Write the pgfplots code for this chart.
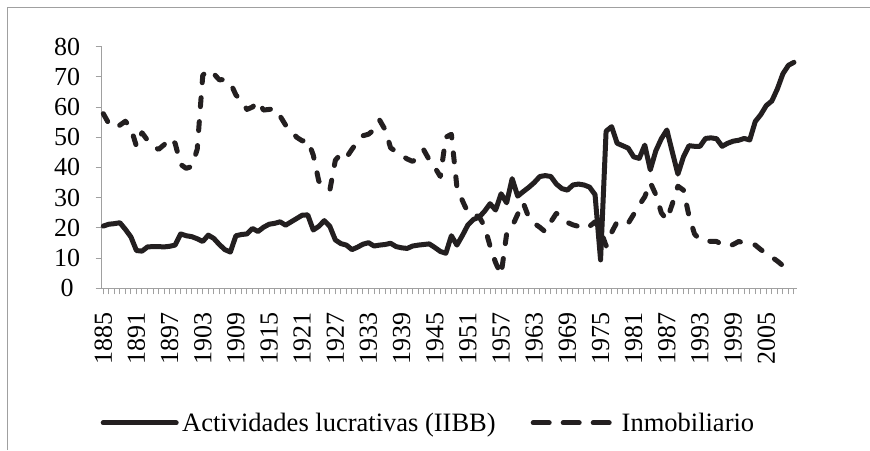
\documentclass[border=0pt]{standalone}
\usepackage{fontspec}
\setmainfont{Liberation Serif}
\usepackage{pgfplots}
\usepackage{pgfplotstable}
\pgfplotsset{compat=1.18}
\definecolor{axgray}{RGB}{160,160,160}
\definecolor{ink}{RGB}{35,31,32}

\pgfplotstableread{
year iibb inmob
1885 20.6 57.8
1886 21.2 54.5
1887 21.4 53.2
1888 21.7 54.0
1889 19.5 55.3
1890 17.0 53.0
1891 12.5 47.0
1892 12.3 51.5
1893 13.7 49.0
1894 13.8 47.0
1895 13.8 46.0
1896 13.7 47.5
1897 13.9 49.7
1898 14.3 48.0
1899 18.0 41.0
1900 17.4 39.7
1901 17.1 40.3
1902 16.4 46.0
1903 15.5 70.5
1904 17.6 72.3
1905 16.5 71.0
1906 14.5 69.0
1907 12.8 69.1
1908 12.0 68.0
1909 17.4 64.0
1910 17.8 62.0
1911 18.0 59.2
1912 19.8 60.0
1913 18.8 61.9
1914 20.2 59.0
1915 21.2 59.2
1916 21.5 59.5
1917 22.0 57.0
1918 20.9 54.0
1919 22.0 52.0
1920 23.1 50.0
1921 24.2 48.8
1922 24.3 49.1
1923 19.3 44.1
1924 20.5 35.5
1925 22.4 33.5
1926 20.5 32.5
1927 16.0 42.4
1928 14.8 44.5
1929 14.3 43.3
1930 12.8 46.0
1931 13.6 48.5
1932 14.6 50.5
1933 15.1 51.0
1934 14.0 52.5
1935 14.3 55.7
1936 14.5 52.5
1937 14.9 46.5
1938 13.8 45.2
1939 13.4 44.0
1940 13.2 42.8
1941 14.0 42.0
1942 14.3 43.5
1943 14.5 45.8
1944 14.7 42.5
1945 13.5 40.0
1946 12.2 37.0
1947 11.6 50.0
1948 17.4 51.0
1949 14.3 33.5
1950 17.5 29.0
1951 21.0 25.0
1952 22.8 24.2
1953 23.5 23.8
1954 25.5 20.5
1955 28.0 14.0
1956 25.9 8.5
1957 31.3 4.5
1958 28.3 18.0
1959 36.3 20.5
1960 30.5 24.5
1961 32.0 28.3
1962 33.4 23.5
1963 35.0 21.5
1964 37.0 20.2
1965 37.3 18.7
1966 37.0 22.0
1967 34.5 24.8
1968 33.0 23.5
1969 32.5 21.8
1970 34.2 21.0
1971 34.5 20.5
1972 34.2 19.6
1973 33.5 20.5
1974 31.0 22.0
1975 9.4 19.3
1976 52.0 14.0
1977 53.5 18.5
1978 48.0 22.0
1979 47.2 21.8
1980 46.4 21.5
1981 43.5 24.5
1982 43.0 27.5
1983 47.4 30.3
1984 39.2 35.0
1985 45.5 31.0
1986 49.5 25.0
1987 52.4 22.6
1988 45.0 28.0
1989 37.8 33.8
1990 43.5 32.5
1991 47.2 24.0
1992 47.0 18.0
1993 47.0 16.0
1994 49.6 15.8
1995 49.8 15.5
1996 49.5 15.5
1997 47.0 14.5
1998 48.0 13.8
1999 48.7 14.5
2000 49.0 15.5
2001 49.6 15.0
2002 49.1 14.9
2003 55.2 14.3
2004 57.5 12.8
2005 60.5 11.5
2006 62.0 10.3
2007 66.0 9.0
2008 71.0 7.5
2009 73.8 6.5
2010 74.8 6.0
}\datatable

\begin{document}
\begin{tikzpicture}[x=1pt,y=1pt]
\path[use as bounding box] (0,0) rectangle (870,450);
\draw[axgray, line width=1pt] (7,0) -- (7,442) -- (870,442);
\begin{axis}[
  at={(101.7pt,161.7pt)}, anchor=south west,
  scale only axis, width=695pt, height=241.7pt,
  xmin=1884.71, xmax=2010.5,
  ymin=0, ymax=80,
  axis x line=bottom, axis y line=left,
  axis line style={axgray, line width=1.3pt, -},
  tick style={axgray, line width=1pt},
  tick align=outside,
  major tick length=6pt, minor tick length=6pt,
  xtick={1885,1891,...,2005},
  xticklabels={1885,1891,1897,1903,1909,1915,1921,1927,1933,1939,1945,1951,1957,1963,1969,1975,1981,1987,1993,1999,2005},
  minor xtick={1885,1886,...,2010},
  ytick={0,10,...,80},
  /pgf/number format/assume math mode=true,
  tick label style={font=\fontsize{26}{30}\selectfont, text=black},
  xticklabel style={rotate=90, anchor=east, inner sep=0pt, xshift=-17.7pt},
  yticklabel style={anchor=center, inner sep=0pt, xshift=-28.7pt},
  clip=false,
  legend style={at={(axis description cs:-0.0017,-0.557)}, anchor=west,
    draw=none, fill=none, font=\fontsize{26.5}{31}\selectfont,
    legend columns=2, inner sep=0pt,
    nodes={inner sep=2pt},
    /tikz/every even column/.append style={column sep=33pt}},
  legend cell align=left,
]
\addplot[ink, line width=5pt, line cap=round, line join=round,
  legend image code/.code={\draw[ink, line width=5pt, line cap=round] (0pt,0pt) -- (73pt,0pt); \path (74.5pt,0pt);}]
  table[x=year, y=iibb] {\datatable};
\addlegendentry{Actividades lucrativas (IIBB)}
\addplot[ink, line width=5pt, line cap=round, line join=round, dash pattern=on 9pt off 15pt,
  legend image code/.code={\draw[ink, line width=5pt, line cap=round, dash pattern=on 16pt off 14pt] (0pt,0pt) -- (76pt,0pt); \path (84pt,0pt);}]
  table[x=year, y=inmob] {\datatable};
\addlegendentry{Inmobiliario}
\end{axis}
\end{tikzpicture}
\end{document}
